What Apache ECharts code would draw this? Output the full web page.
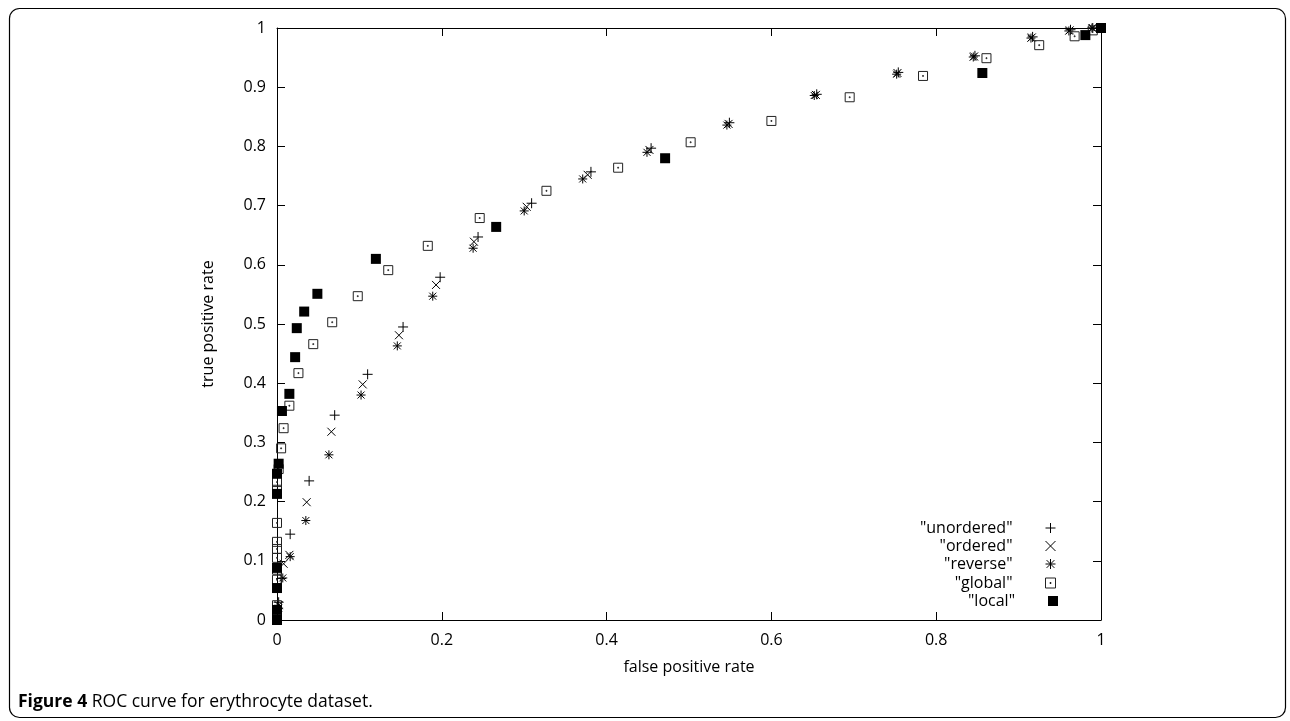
<!DOCTYPE html>
<html>
<head>
<meta charset="utf-8">
<title>ROC curve</title>
<script src="https://cdn.jsdelivr.net/npm/echarts@6/dist/echarts.min.js"></script>
<style>
  html, body { margin: 0; padding: 0; background: #fff; }
  #chart { width: 1290px; height: 721px; }
</style>
</head>
<body>
<div id="chart"></div>
<script>
// 数据：[false positive rate, true positive rate]
const unordered = [[0,0],[0.002,0.03],[0.005,0.07],[0.016,0.145],[0.039,0.235],[0.070,0.346],[0.110,0.415],[0.153,0.495],[0.198,0.579],[0.244,0.647],[0.309,0.704],[0.381,0.757],[0.454,0.797],[0.549,0.840],[0.655,0.888],[0.754,0.925],[0.847,0.953],[0.917,0.985],[0.963,0.997],[0.990,1],[1,1]];
const ordered = [[0,0],[0.002,0.025],[0.008,0.095],[0.015,0.110],[0.036,0.199],[0.066,0.318],[0.104,0.398],[0.148,0.481],[0.193,0.566],[0.239,0.639],[0.303,0.698],[0.377,0.752],[0.452,0.794],[0.548,0.838],[0.654,0.887],[0.753,0.924],[0.846,0.952],[0.916,0.984],[0.962,0.996],[0.990,1],[1,1]];
const reverse = [[0,0],[0.002,0.02],[0.007,0.071],[0.016,0.107],[0.035,0.168],[0.063,0.279],[0.102,0.380],[0.146,0.463],[0.189,0.547],[0.238,0.628],[0.300,0.691],[0.371,0.745],[0.449,0.790],[0.546,0.836],[0.652,0.886],[0.752,0.922],[0.845,0.951],[0.915,0.983],[0.961,0.995],[0.989,1],[1,1]];
const global = [[0,0.005],[0,0.025],[0,0.068],[0,0.085],[0,0.105],[0,0.120],[0,0.132],[0,0.164],[0,0.220],[0,0.233],[0.002,0.255],[0.005,0.290],[0.008,0.324],[0.015,0.362],[0.026,0.417],[0.044,0.466],[0.067,0.503],[0.098,0.547],[0.135,0.591],[0.183,0.632],[0.246,0.679],[0.327,0.725],[0.414,0.764],[0.502,0.807],[0.600,0.843],[0.695,0.883],[0.784,0.919],[0.861,0.949],[0.925,0.971],[0.968,0.986],[0.990,0.996],[1,1]];
const local = [[0,0],[0,0.017],[0,0.054],[0,0.088],[0,0.213],[0,0.247],[0.002,0.264],[0.006,0.353],[0.015,0.382],[0.022,0.444],[0.024,0.493],[0.033,0.521],[0.049,0.551],[0.120,0.610],[0.266,0.664],[0.471,0.780],[0.856,0.924],[0.981,0.988],[1,1]];

const seriesNames = ['"unordered"', '"ordered"', '"reverse"', '"global"', '"local"'];

const FONT = '"Open Sans", sans-serif';
const FONT_SIZE = 16;

// gnuplot 风格的点符号
const SYM_PLUS = 'path://M0,5L10,5M5,0L5,10';
const SYM_CROSS = 'path://M0,0L10,10M10,0L0,10';
const SYM_STAR = 'path://M0,4.5L9,4.5M4.5,0L4.5,9M1,1L8,8M8,1L1,8';
const SYM_BOX_DOT = 'path://M0,0L10,0L10,10L0,10ZM4.5,4.5L5.5,4.5L5.5,5.5L4.5,5.5Z';
const SYM_BOX = 'path://M0,0L10,0L10,10L0,10Z';

// scatter 默认 opacity 是 0.8，这里改成 1
const strokeStyle = { color: 'none', borderColor: '#000', borderWidth: 1, opacity: 1 };
const styles = [
  { symbol: SYM_PLUS, size: 10, itemStyle: strokeStyle },
  { symbol: SYM_CROSS, size: 8, itemStyle: strokeStyle },
  { symbol: SYM_STAR, size: 9, itemStyle: strokeStyle },
  { symbol: SYM_BOX_DOT, size: 9, itemStyle: { color: 'none', borderColor: '#222', borderWidth: 1, opacity: 1 } },
  { symbol: SYM_BOX, size: 10, itemStyle: { color: '#000', borderWidth: 0, opacity: 1 } },
];
const datasets = [unordered, ordered, reverse, global, local];

const myChart = echarts.init(document.getElementById('chart'), null, { renderer: 'canvas' });

const series = datasets.map((d, i) => ({
  name: seriesNames[i],
  type: 'scatter',
  data: d,
  symbol: styles[i].symbol,
  symbolSize: styles[i].size,
  itemStyle: styles[i].itemStyle,
  clip: false,
  silent: true,
}));

// 图例：每一行一个 legend，文字右对齐，符号在右边
const legendRowCenter = [528, 546, 564, 583, 601];
const legends = seriesNames.map((name, i) => ({
  orient: 'vertical',
  right: 227,
  top: legendRowCenter[i] - 14,
  align: 'right',
  itemWidth: 66,
  itemHeight: 10,
  selectedMode: false,
  symbolKeepAspect: true,
  textStyle: { fontFamily: FONT, fontSize: FONT_SIZE, color: '#000', lineHeight: 18 },
  data: [{ name: name, icon: styles[i].symbol, itemStyle: styles[i].itemStyle }],
}));

const axisCommon = {
  type: 'value',
  min: 0,
  max: 1,
  axisLine: { show: true, onZero: false, lineStyle: { color: '#000', width: 1 } },
  axisTick: { show: true, inside: true, length: 8, lineStyle: { color: '#000' } },
  splitLine: { show: false },
};

const option = {
  animation: false,
  backgroundColor: '#fff',
  title: {
    left: 13,
    top: 688,
    text: '{b|Figure 4} ROC curve for erythrocyte dataset.',
    textStyle: {
      fontFamily: FONT,
      fontSize: 17.5,
      fontWeight: 'normal',
      color: '#000',
      rich: { b: { fontFamily: FONT, fontSize: 17.5, fontWeight: 'bold', color: '#000' } },
    },
  },
  grid: { left: 277, right: 189, top: 28, bottom: 101 },
  legend: legends,
  xAxis: [
    Object.assign({}, axisCommon, {
      interval: 0.2,
      position: 'bottom',
      name: 'false positive rate',
      nameLocation: 'middle',
      nameGap: 39,
      nameTextStyle: { fontFamily: FONT, fontSize: FONT_SIZE, color: '#000' },
      axisLabel: { fontFamily: FONT, fontSize: FONT_SIZE, color: '#000', margin: 12 },
    }),
    Object.assign({}, axisCommon, {
      interval: 0.2,
      position: 'top',
      axisLabel: { show: false },
    }),
  ],
  yAxis: [
    Object.assign({}, axisCommon, {
      interval: 0.1,
      position: 'left',
      name: 'true positive rate',
      nameLocation: 'middle',
      nameGap: 61,
      nameTextStyle: { fontFamily: FONT, fontSize: FONT_SIZE, color: '#000' },
      axisLabel: { fontFamily: FONT, fontSize: FONT_SIZE, color: '#000', margin: 11 },
    }),
    Object.assign({}, axisCommon, {
      interval: 0.1,
      position: 'right',
      axisLabel: { show: false },
    }),
  ],
  graphic: [
    {
      // 外框
      type: 'rect',
      left: 7,
      top: 6,
      shape: { width: 1276, height: 709, r: 10 },
      style: { fill: 'none', stroke: '#000', lineWidth: 1.2 },
      silent: true,
      z: -1,
    },
  ],
  series: series,
};

myChart.setOption(option);
</script>
</body>
</html>
